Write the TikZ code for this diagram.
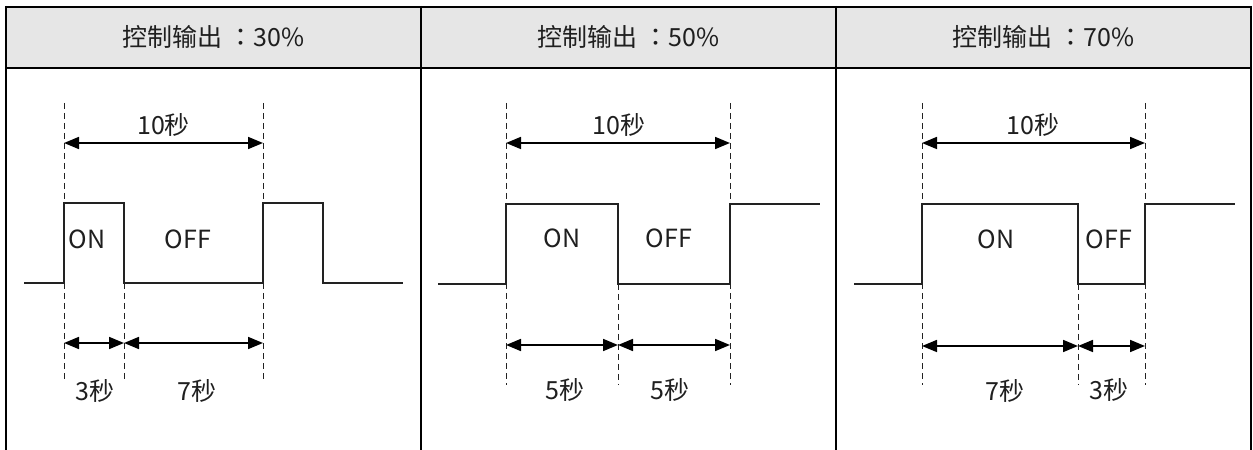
\documentclass[tikz,border=0pt]{standalone}
\usepackage{fontspec}
\setmainfont{Noto Sans CJK SC}
\newfontfamily\tcfont{Noto Sans CJK TC}
\usetikzlibrary{arrows.meta,calc}
\definecolor{hdrgray}{HTML}{E6E6E6}
\definecolor{sig}{HTML}{222222}
\tikzset{dimtip/.tip={Triangle[length=15bp,width=12bp]}}
\begin{document}
\begin{tikzpicture}[x=1bp,y=-1bp,
  border/.style={line width=2bp,black},
  signal/.style={line width=1.3bp,sig},
  guide/.style={line width=0.9bp,sig,dash pattern=on 6bp off 4bp},
  dim/.style={line width=1.7bp,black,dimtip-dimtip},
  lbl/.style={font=\fontsize{25bp}{27bp}\selectfont,text=black!88,inner sep=0pt},
  hdr/.style={font=\fontsize{25bp}{27bp}\selectfont,text=black!88,inner sep=0pt}]
\useasboundingbox (0,0) rectangle (1253,450);
% header
\fill[hdrgray] (6,7) rectangle (1251,68);
\node[hdr] (h1) at (213.5,37) {控制输出 {\tcfont ：}30\%};
\node[hdr] (h2) at (628.5,37) {控制输出 {\tcfont ：}50\%};
\node[hdr] (h3) at (1043.5,37) {控制输出 {\tcfont ：}70\%};
% table lines
\draw[border] (5,7) -- (1252,7);
\draw[border] (5,68) -- (1252,68);
\draw[border] (6,6) -- (6,450);
\draw[border] (421,6) -- (421,450);
\draw[border] (836,6) -- (836,450);
\draw[border] (1251,6) -- (1251,450);
% ---------- panel 1 ----------
\foreach \n/\x in {a/64,b/124,c/263}{
  \coordinate (p1\n t) at (\x,103);
  \coordinate (p1\n b) at (\x,382);
  \coordinate (p1\n u) at (\x,143);
  \coordinate (p1\n d) at (\x,343);
}
\coordinate (p1bm) at (124,283);
\draw[guide] (p1at) -- (p1ab);
\draw[guide] (p1bm) -- (p1bb);
\draw[guide] (p1ct) -- (p1cb);
\draw[signal] (24,283) -- (64,283) -- (64,203) -- (124,203) -- (124,283) -- (263,283) -- (263,203) -- (323,203) -- (323,283) -- (403,283);
\draw[dim] (p1au) -- (p1cu);
\draw[dim] (p1ad) -- (p1bd);
\draw[dim] (p1bd) -- (p1cd);
\node[lbl] (p1top) at (163.5,125) {10秒};
\node[lbl] (p1on) at (87,239) {ON};
\node[lbl] (p1off) at (188,239) {OFF};
\node[lbl] (p1l) at (95,391) {3秒};
\node[lbl] (p1r) at (197,391) {7秒};
% ---------- panel 2 ----------
\foreach \n/\x in {a/506,b/618,c/730}{
  \coordinate (p2\n t) at (\x,103);
  \coordinate (p2\n b) at (\x,385);
  \coordinate (p2\n u) at (\x,143);
  \coordinate (p2\n d) at (\x,345);
}
\coordinate (p2bm) at (618,284);
\draw[guide] (p2at) -- (p2ab);
\draw[guide] (p2bm) -- (p2bb);
\draw[guide] (p2ct) -- (p2cb);
\draw[signal] (438,284) -- (506,284) -- (506,204) -- (618,204) -- (618,284) -- (730,284) -- (730,204) -- (820,204);
\draw[dim] (p2au) -- (p2cu);
\draw[dim] (p2ad) -- (p2bd);
\draw[dim] (p2bd) -- (p2cd);
\node[lbl] (p2top) at (619,125) {10秒};
\node[lbl] (p2on) at (562,238) {ON};
\node[lbl] (p2off) at (669,238) {OFF};
\node[lbl] (p2l) at (565,390) {5秒};
\node[lbl] (p2r) at (670,390) {5秒};
% ---------- panel 3 ----------
\foreach \n/\x in {a/922,b/1078,c/1145}{
  \coordinate (p3\n t) at (\x,103);
  \coordinate (p3\n b) at (\x,385);
  \coordinate (p3\n u) at (\x,143);
  \coordinate (p3\n d) at (\x,346);
}
\coordinate (p3bm) at (1078,284);
\draw[guide] (p3at) -- (p3ab);
\draw[guide] (p3bm) -- (p3bb);
\draw[guide] (p3ct) -- (p3cb);
\draw[signal] (854,284) -- (922,284) -- (922,204) -- (1078,204) -- (1078,284) -- (1145,284) -- (1145,204) -- (1235,204);
\draw[dim] (p3au) -- (p3cu);
\draw[dim] (p3ad) -- (p3bd);
\draw[dim] (p3bd) -- (p3cd);
\node[lbl] (p3top) at (1033,125) {10秒};
\node[lbl] (p3on) at (996,239) {ON};
\node[lbl] (p3off) at (1109,239) {OFF};
\node[lbl] (p3l) at (1005,391) {7秒};
\node[lbl] (p3r) at (1109,390) {3秒};
\end{tikzpicture}
\end{document}
